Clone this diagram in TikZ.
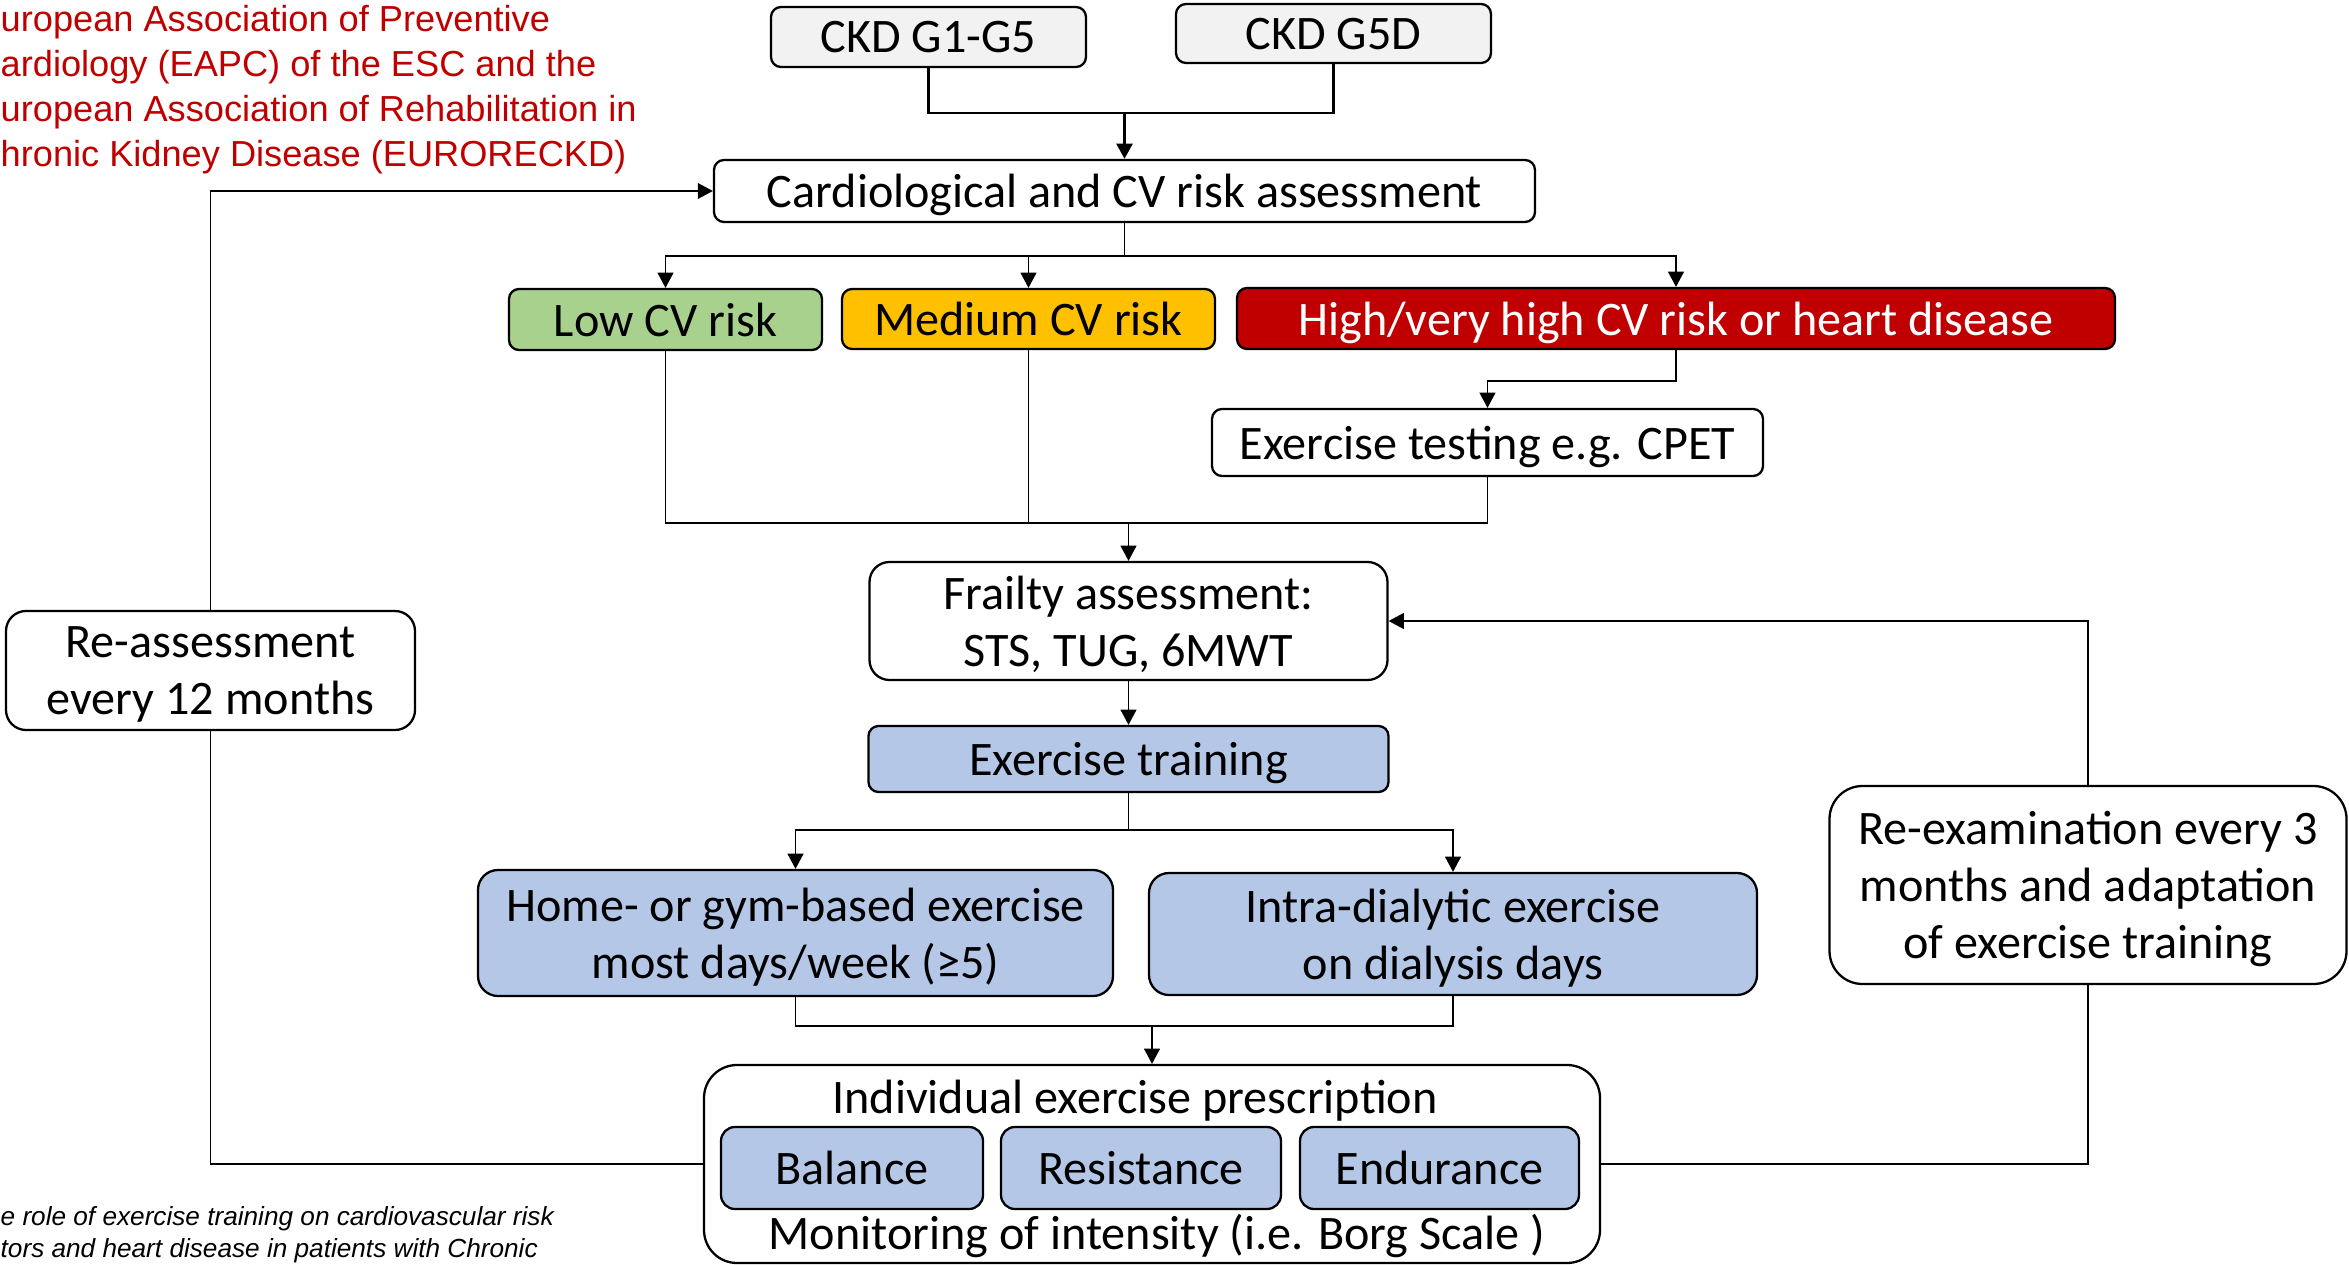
\documentclass[tikz,border=0pt]{standalone}
\usepackage{fontspec}
\setmainfont{Carlito}
\newfontfamily\arialfont{Liberation Sans}
\usetikzlibrary{arrows.meta, positioning}
\definecolor{lowc}{HTML}{A9D18E}
\definecolor{medc}{HTML}{FFC000}
\definecolor{highc}{HTML}{C00000}
\definecolor{trainc}{HTML}{B4C7E7}
\definecolor{ckdc}{HTML}{F2F2F2}
\tikzset{
  blk/.style={draw, rounded corners=0.1cm, fill=#1, line width=0.65pt, align=center,
              inner sep=0pt, text depth=0pt, font=\fontsize{13.7}{16.3}\selectfont},
  blk/.default=white,
  sig/.style={-{Triangle[length=4.3pt,width=4.5pt]}, line width=0.4pt},
  lnk/.style={line width=0.4pt},
}

\begin{document}
\begin{tikzpicture}[y=-1cm]
  \useasboundingbox (0,0) rectangle (23.49,12.65);
  % side texts
  \node[anchor=north west, inner sep=0pt, align=left, text=highc,
        font=\arialfont\fontsize{10.3}{12.75}\selectfont] (eapc) at (0,0.05)
    {uropean Association of Preventive\\ardiology (EAPC) of the ESC and the\\uropean Association of Rehabilitation in\\hronic Kidney Disease (EURORECKD)};
  \node[anchor=north west, inner sep=0pt, align=left,
        font=\arialfont\itshape\fontsize{7.45}{9.1}\selectfont] (capt) at (0,12.06)
    {e role of exercise training on cardiovascular risk\\tors and heart disease in patients with Chronic};
  % CKD stages and risk assessment
  \node[blk=ckdc, minimum width=3.15cm, minimum height=0.6cm] (g1) at (9.285,0.37) {CKD G1-G5};
  \node[blk=ckdc, minimum width=3.15cm, minimum height=0.59cm] (g5d) at (13.335,0.335) {CKD G5D};
  \node[blk, minimum width=8.21cm, minimum height=0.62cm] (cardio) at (11.245,1.91) {Cardiological and CV risk assessment};
  \node[blk=lowc, minimum width=3.13cm, minimum height=0.61cm] (low) at (6.655,3.195) {Low CV risk};
  \node[blk=medc, minimum width=3.73cm, minimum height=0.6cm] (med) at (10.285,3.19) {Medium CV risk};
  \node[blk=highc, text=white, minimum width=8.78cm, minimum height=0.61cm] (high) at (16.76,3.185) {High/very high CV risk or heart disease};
  \node[blk, minimum width=5.51cm, minimum height=0.67cm] (cpet) at (14.875,4.425) {Exercise testing e.g. CPET};
  % frailty and training
  \node[blk, rounded corners=0.2cm, minimum width=5.18cm, minimum height=1.18cm] (frail) at (11.285,6.21) {Frailty assessment:\\STS, TUG, 6MWT};
  \node[blk=trainc, minimum width=5.2cm, minimum height=0.66cm] (train) at (11.285,7.59) {Exercise training};
  \node[blk=trainc, rounded corners=0.2cm, minimum width=6.35cm, minimum height=1.26cm] (home) at (7.955,9.33) {Home- or gym-based exercise\\most days/week (≥5)};
  \node[blk=trainc, rounded corners=0.2cm, minimum width=6.08cm, minimum height=1.22cm] (intra) at (14.53,9.34) {Intra-dialytic exercise\\on dialysis days};
  % prescription
  \node[blk, rounded corners=0.33cm, minimum width=8.96cm, minimum height=1.98cm] (presc) at (11.52,11.64) {};
  \node[font=\fontsize{13.7}{16.3}\selectfont, inner sep=0pt, text depth=0pt] (prtitle) at (11.35,10.97) {Individual exercise prescription};
  \node[blk=trainc, rounded corners=0.14cm, minimum width=2.62cm, minimum height=0.82cm] (bal) at (8.52,11.68) {Balance};
  \node[blk=trainc, rounded corners=0.14cm, minimum width=2.8cm, minimum height=0.82cm] (res) at (11.41,11.68) {Resistance};
  \node[blk=trainc, rounded corners=0.14cm, minimum width=2.79cm, minimum height=0.82cm] (endu) at (14.395,11.68) {Endurance};
  \node[font=\fontsize{13.7}{16.3}\selectfont, inner sep=0pt] (borg) at (11.57,12.36) {Monitoring of intensity (i.e. Borg Scale )};
  % loops
  \node[blk, rounded corners=0.2cm, minimum width=4.09cm, minimum height=1.19cm] (reass) at (2.105,6.705) {Re-assessment\\every 12 months};
  \node[blk, rounded corners=0.33cm, minimum width=5.17cm, minimum height=1.98cm] (reexam) at (20.88,8.85) {Re-examination every 3\\months and adaptation\\of exercise training};
  % connectors
  \coordinate (ckdj) at (11.245,1.13);
  \draw[lnk, line width=0.7pt] (g1.south) |- (ckdj);
  \draw[lnk, line width=0.7pt] (g5d.south) |- (ckdj);
  \draw[sig, line width=0.8pt] (ckdj) -- (cardio.north);
  \coordinate (riskj) at (11.245,2.56);
  \draw[lnk] (cardio.south) -- (riskj);
  \draw[sig] (riskj) -| (low.north);
  \draw[sig] (riskj) -| (med.north);
  \draw[sig] (riskj) -| (high.north);
  \draw[sig] (high.south) -- ++(0,0.31) -| (cpet.north);
  \coordinate (frailj) at (11.285,5.23);
  \draw[lnk] (low.south) |- (frailj);
  \draw[lnk] (med.south) |- (frailj);
  \draw[lnk] (cpet.south) |- (frailj);
  \draw[sig] (frailj) -- (frail.north);
  \draw[sig] (frail.south) -- (train.north);
  \coordinate (trainj) at (11.285,8.30);
  \draw[lnk] (train.south) -- (trainj);
  \draw[sig] (trainj) -| (home.north);
  \draw[sig] (trainj) -| (intra.north);
  \coordinate (prescj) at (11.52,10.26);
  \draw[lnk] (home.south) |- (prescj);
  \draw[lnk] (intra.south) |- (prescj);
  \draw[sig] (prescj) -- (presc.north);
  \draw[lnk] (presc.west) -| (reass.south);
  \draw[sig] (reass.north) |- (cardio.west);
  \draw[lnk] (presc.east) -| (reexam.south);
  \draw[sig] (reexam.north) |- (frail.east);
\end{tikzpicture}
\end{document}
